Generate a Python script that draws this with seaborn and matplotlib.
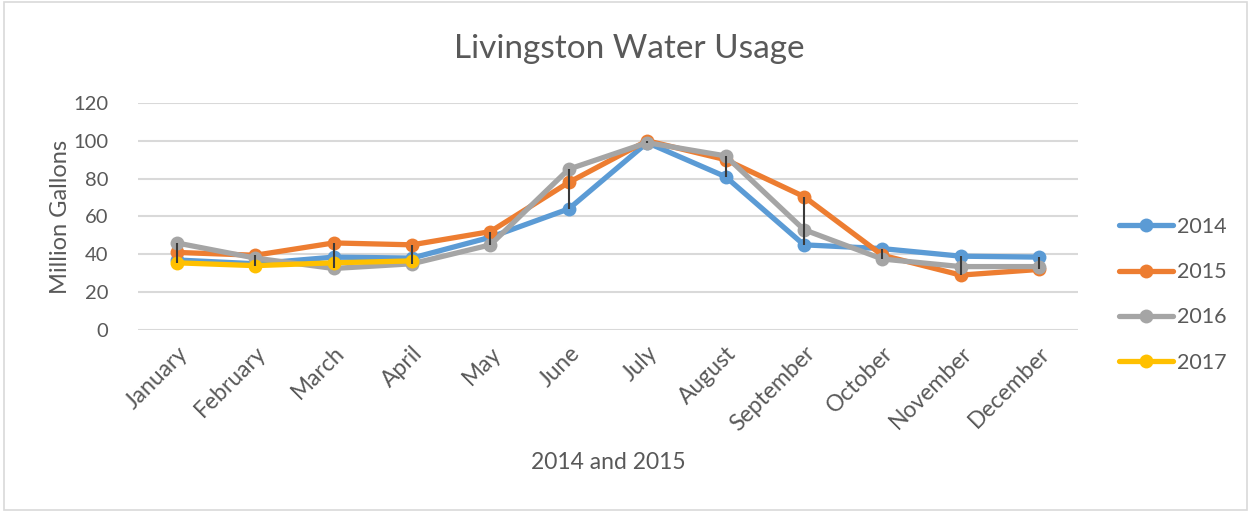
import matplotlib
matplotlib.use("Agg")
import matplotlib.pyplot as plt
import seaborn as sns
import pandas as pd
import numpy as np
from matplotlib.patches import Rectangle

months = ["January", "February", "March", "April", "May", "June", "July",
          "August", "September", "October", "November", "December"]
usage_2014 = [37, 35, 38.5, 38, 49, 64, 99, 81, 45, 43, 39, 38.5]
usage_2015 = [41, 39.5, 46, 45, 52, 78, 100, 90, 70.5, 39.5, 29, 32]
usage_2016 = [46, 38, 32.5, 35, 45, 85, 99, 92, 53, 37.5, 33.5, 33.5]
usage_2017 = [35.5, 34, 35.5, 36.5]
years = ["2014", "2015", "2016", "2017"]
y_ticks = [0, 20, 40, 60, 80, 100, 120]

series = [usage_2014, usage_2015, usage_2016, usage_2017]
rows = []
for yr, vals in zip(years, series):
    for i, v in enumerate(vals):
        rows.append({"month": i, "value": v, "year": yr})
df = pd.DataFrame(rows)

sns.set_style("white")
font = "Lato"
plt.rcParams["font.family"] = [font, "DejaVu Sans"]
text_color = "#595959"

fig = plt.figure(figsize=(12.51, 5.12), dpi=100)
ax = fig.add_axes([0.110, 0.3555, 0.752, 0.4435])

palette = {"2014": "#5B9BD5", "2015": "#ED7D31", "2016": "#A5A5A5", "2017": "#FFC000"}
sns.lineplot(data=df, x="month", y="value", hue="year", hue_order=years,
             palette=palette, marker="o", markersize=10, linewidth=3.8,
             markeredgewidth=0, ax=ax, legend=True, zorder=3)

# high-low lines
hi = df.groupby("month")["value"].max()
lo = df.groupby("month")["value"].min()
ax.vlines(hi.index, lo.values, hi.values, color="#3a3a3a", linewidth=1.5, zorder=5)

ax.set_xlim(-0.5, 11.5)
ax.set_ylim(0, 120)
ax.set_yticks(y_ticks)
ax.set_yticklabels([str(t) for t in y_ticks], fontsize=14.5, color=text_color)
ax.set_xticks(range(12))
ax.set_xticklabels(months, rotation=45, ha="right", rotation_mode="anchor",
                   fontsize=16.5, color=text_color)
ax.tick_params(axis="y", length=0, pad=21)
ax.tick_params(axis="x", length=0, pad=9)
ax.yaxis.grid(True, color="#D9D9D9", linewidth=1.5)
ax.set_axisbelow(True)
for s in ax.spines.values():
    s.set_visible(False)

ax.set_ylabel("Million Gallons", fontsize=17, color=text_color, labelpad=2)
ax.set_xlabel("2014 and 2015", fontsize=16.5, color=text_color, labelpad=12)
fig.text(0.503, 0.904, "Livingston Water Usage", ha="center", va="center",
         fontsize=24, color=text_color)

handles, labels = ax.get_legend_handles_labels()
ax.legend(handles, labels, loc="center left", bbox_to_anchor=(1.023, 0.155),
          frameon=False, fontsize=15.5, labelcolor=text_color, handlelength=2.5,
          handletextpad=0.2, labelspacing=1.17)

fig.add_artist(Rectangle((0.003, 0.004), 0.994, 0.992, transform=fig.transFigure,
                         fill=False, edgecolor="#D9D9D9", linewidth=1.2))

fig.savefig("out.png", dpi=100, facecolor="white")
